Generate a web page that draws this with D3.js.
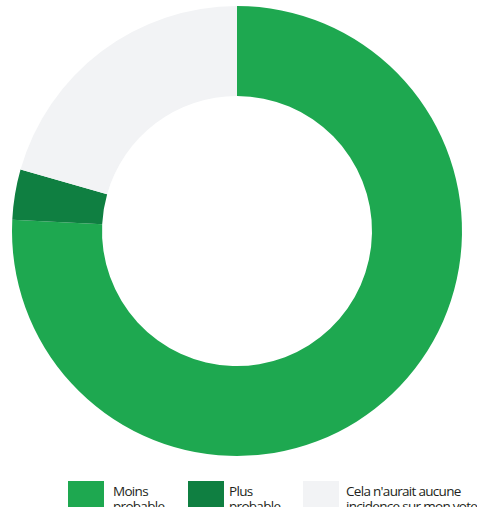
<!DOCTYPE html>
<html>
<head>
<meta charset="utf-8">
<script src="https://cdn.jsdelivr.net/npm/d3@7"></script>
<style>
  html, body { margin: 0; padding: 0; background: #ffffff; }
  svg { display: block; }
  text { font-family: "Open Sans", "Noto Sans", sans-serif; fill: #231f20; }
</style>
</head>
<body>
<svg id="chart" width="477" height="507"></svg>
<script>
// Share of respondents (%)
const categories = ["Moins probable", "Plus probable", "Cela n'aurait aucune incidence sur mon vote"];
const values = [75.8, 3.6, 20.6];
const colors = ["#1ea850", "#0f7f41", "#f2f3f5"];
// Legend text, one entry per category, split over two lines
const legendLines = [["Moins", "probable"], ["Plus", "probable"], ["Cela n'aurait aucune", "incidence sur mon vote"]];

const width = 477, height = 507;
const cx = 237, cy = 231;
const outerR = 225, innerR = 135;

const svg = d3.select("#chart");

const data = categories.map((c, i) => ({ category: c, value: values[i] }));

const color = d3.scaleOrdinal().domain(categories).range(colors);

const pie = d3.pie()
  .value(d => d.value)
  .sort(null)
  .startAngle(0)
  .endAngle(2 * Math.PI);

const arc = d3.arc().innerRadius(innerR).outerRadius(outerR);

svg.append("g")
  .attr("transform", `translate(${cx},${cy})`)
  .selectAll("path")
  .data(pie(data))
  .join("path")
  .attr("d", arc)
  .attr("fill", d => color(d.data.category));

// Legend along the bottom edge
const swatchX = d3.scaleOrdinal().domain(categories).range([68, 188, 303]);
const labelX = d3.scaleOrdinal().domain(categories).range([113, 229, 346]);
const swatchW = 36, swatchH = 30, swatchY = 481;

const items = svg.append("g")
  .selectAll("g")
  .data(categories)
  .join("g");

items.append("rect")
  .attr("x", d => swatchX(d))
  .attr("y", swatchY)
  .attr("width", swatchW)
  .attr("height", swatchH)
  .attr("fill", d => color(d));

items.append("text")
  .attr("y", swatchY + 14.5)
  .attr("font-size", 13.5)
  .attr("letter-spacing", -0.7)
  .each(function (d, i) {
    d3.select(this).selectAll("tspan")
      .data(legendLines[i])
      .join("tspan")
      .attr("x", labelX(d))
      .attr("dy", (t, j) => j === 0 ? 0 : 15)
      .text(t => t);
  });
</script>
</body>
</html>
